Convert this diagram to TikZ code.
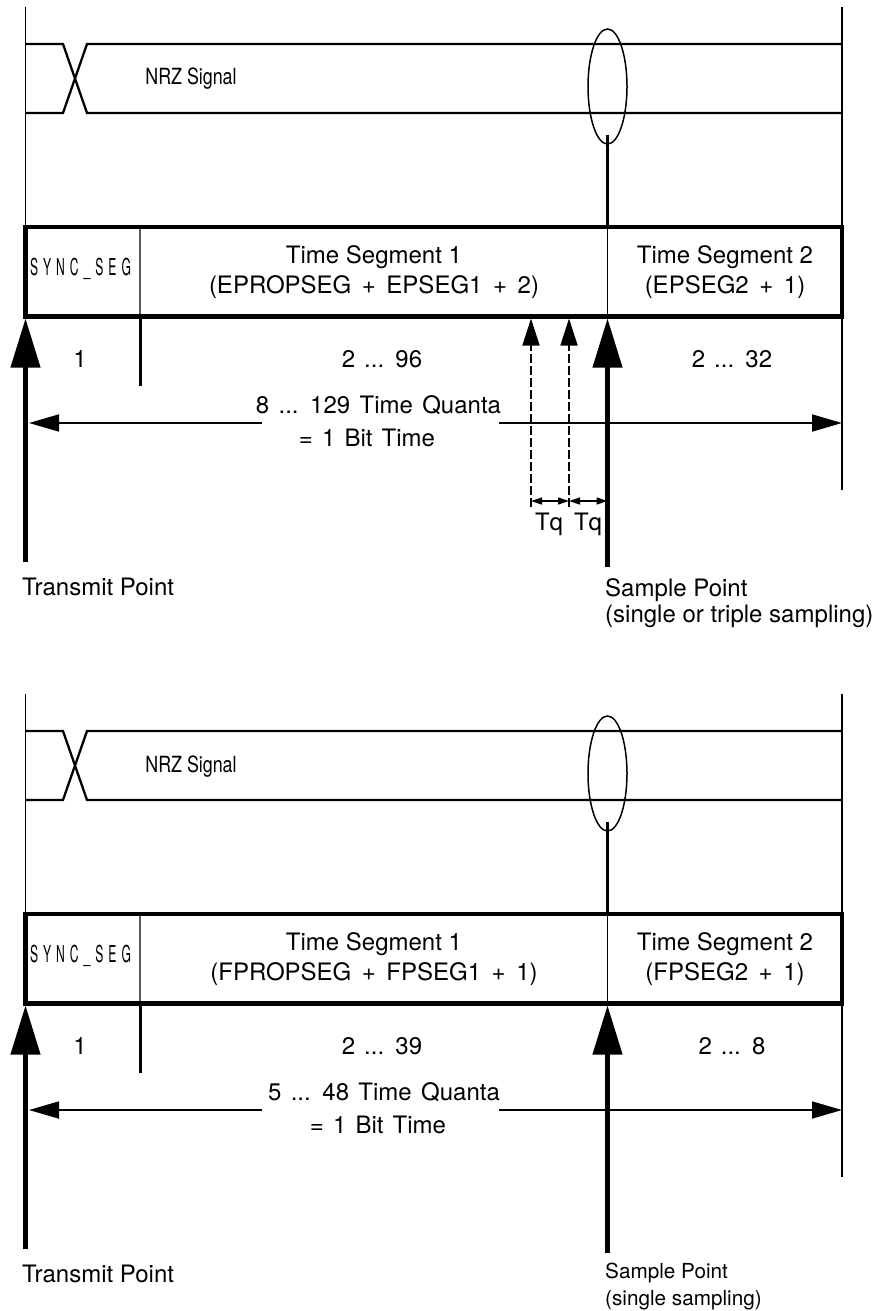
\documentclass[tikz,border=0pt]{standalone}
\usepackage{fontspec}
\setmainfont{TeX Gyre Heros}
\usepackage{graphicx}
\usetikzlibrary{arrows.meta,shapes.geometric}

\newcommand\widesp[1]{\spaceskip=#1em\relax}

% #1 seg1 formula, #2 seg2 formula, #3 seg1 count, #4 seg2 count,
% #5 quanta text, #6 x of quanta text, #7 x of "= 1 Bit Time"
\newcommand\bitframe[7]{%
  \coordinate (Ltop) at (25.5,7);
  \coordinate (Rtop) at (842,7);
  \coordinate (Rbot) at (842,490);
  \coordinate (BoxNW) at (25.5,227);
  \coordinate (BoxSE) at (842,316.5);
  \draw[guide] (Ltop) -- (BoxNW);
  \draw[guide] (Rtop) -- (Rbot);
  % NRZ signal
  \draw[sigline] (25.5,44) -- (63,44) -- (87,113) -- (842,113);
  \draw[sigline] (25.5,113) -- (63,113) -- (87,44) -- (842,44);
  \node[nrz, anchor=base] (nrz) at (191,85) {\scalebox{0.8}[1]{NRZ Signal}};
  % sample ellipse and line
  \node[draw, ellipse, line width=1.5pt, minimum width=39pt, minimum height=115pt, inner sep=0pt] (ell) at (607.5,86.5) {};
  \coordinate (SLtop) at (607.5,135);
  \coordinate (SLbox) at (607.5,227);
  \coordinate (SLbot) at (607.5,316.5);
  \draw[line width=2.2pt] (SLtop) -- (SLbox);
  \draw[guide] (SLbox) -- (SLbot);
  % sync divider
  \coordinate (SyT) at (140,227);
  \coordinate (SyB) at (140,316.5);
  \coordinate (SyE) at (140,386);
  \draw[line width=2.2pt, black!65] (SyT) -- (SyB);
  \draw[line width=3pt] (SyB) -- (SyE);
  % frame
  \draw[frameline] (BoxNW) rectangle (BoxSE);
  % texts in frame
  \node[syncl, anchor=base] (sync) at (80.5,275) {\scalebox{0.52}[1]{S\kern9.6pt Y\kern9.6pt N\kern9.6pt C\kern9.6pt \_\kern9.6pt S\kern9.6pt E\kern9.6pt G}};
  \node[lbl] (seg1) at (374,272) {Time Segment 1\\{\widesp{0.44}#1}};
  \node[lbl] (seg2) at (725,272) {Time Segment 2\\{\widesp{0.44}#2}};
  % counts
  \node[lbl, anchor=base] (n1) at (80,367) {1};
  \node[lbl, anchor=base] (n2) at (382,367) {\widesp{0.374}#3};
  \node[lbl, anchor=base] (n3) at (732,367) {\widesp{0.374}#4};
  % bit time
  \node[lbl, anchor=base] (tq) at (#6,413) {\widesp{0.39}#5};
  \node[lbl, anchor=base] (bt) at (#7,446) {\widesp{0.38}= 1 Bit Time};
  \coordinate (BTl) at (262,423);
  \coordinate (BTr) at (499,423);
  \coordinate (BTtipL) at (29,423);
  \coordinate (BTtipR) at (842,423);
  \draw[spanarrow] (BTl) -- (BTtipL);
  \draw[spanarrow] (BTr) -- (BTtipR);
  % transmit point
  \coordinate (TPb) at (25.5,562);
  \coordinate (TPt) at (25.5,318.5);
  \draw[bigarrow] (TPb) -- (TPt);
  \node[lbl, anchor=base west] (tp) at (22,595) {Transmit Point};
}

\begin{document}
\begin{tikzpicture}[x=1pt,y=-1pt,
  guide/.style={line width=1.3pt},
  sigline/.style={line width=2.3pt},
  frameline/.style={line width=4.6pt},
  lbl/.style={font=\fontsize{24}{30}\selectfont, inner sep=0pt, align=center},
  smalllbl/.style={font=\fontsize{20.7}{24}\selectfont, inner sep=0pt},
  nrz/.style={font=\fontsize{22.3}{24}\selectfont, inner sep=0pt},
  syncl/.style={font=\fontsize{23.3}{24}\selectfont, inner sep=0pt},
  bigarrow/.style={line width=4.2pt, -{Triangle[length=49pt,width=29pt]}},
  spanarrow/.style={line width=1.7pt, -{Triangle[length=30pt,width=17pt]}},
  dasharrow/.style={line width=1.6pt, dash pattern=on 9pt off 3pt, -{Triangle[length=27pt,width=17pt]}},
  tqarrow/.style={line width=1.3pt, {Triangle[length=11pt,width=7pt]}-{Triangle[length=11pt,width=7pt]}},
]
\useasboundingbox (0,0) rectangle (875,1311);

% ---------------- top diagram ----------------
\begin{scope}[name prefix=t-]
  \bitframe{(EPROPSEG + EPSEG1 + 2)}{(EPSEG2 + 1)}{2 ... 96}{2 ... 32}{8 ... 129 Time Quanta}{378.5}{367}
  % dashed sampling arrows
  \coordinate (D1b) at (531,507);
  \coordinate (D1t) at (531,318.5);
  \coordinate (D2b) at (569,507);
  \coordinate (D2t) at (569,318.5);
  \draw[dasharrow] (D1b) -- (D1t);
  \draw[dasharrow] (D2b) -- (D2t);
  \coordinate (Q1) at (531,501);
  \coordinate (Q2) at (569,501);
  \coordinate (Q3) at (607.5,501);
  \draw[tqarrow] (Q1) -- (Q2);
  \draw[tqarrow] (Q2) -- (Q3);
  \node[lbl, anchor=base] (tq1) at (549,530) {Tq};
  \node[lbl, anchor=base] (tq2) at (588,530) {Tq};
  % sample point
  \coordinate (SPb) at (607.5,567);
  \coordinate (SPt) at (607.5,318.5);
  \draw[bigarrow] (SPb) -- (SPt);
  \node[lbl, anchor=base west] (sp1) at (605,596) {Sample Point};
  \node[lbl, anchor=base west] (sp2) at (605,622) {(single or triple sampling)};
\end{scope}

% ---------------- bottom diagram ----------------
\begin{scope}[name prefix=b-, shift={(0,687)}]
  \bitframe{(FPROPSEG + FPSEG1 + 1)}{(FPSEG2 + 1)}{2 ... 39}{2 ... 8}{5 ... 48 Time Quanta}{384}{378}
  \coordinate (SPb) at (607.5,566);
  \coordinate (SPt) at (607.5,318.5);
  \draw[bigarrow] (SPb) -- (SPt);
  \node[smalllbl, anchor=base west] (sp1) at (605,591) {Sample Point};
  \node[smalllbl, anchor=base west] (sp2) at (605,618) {(single sampling)};
\end{scope}
\end{tikzpicture}
\end{document}
